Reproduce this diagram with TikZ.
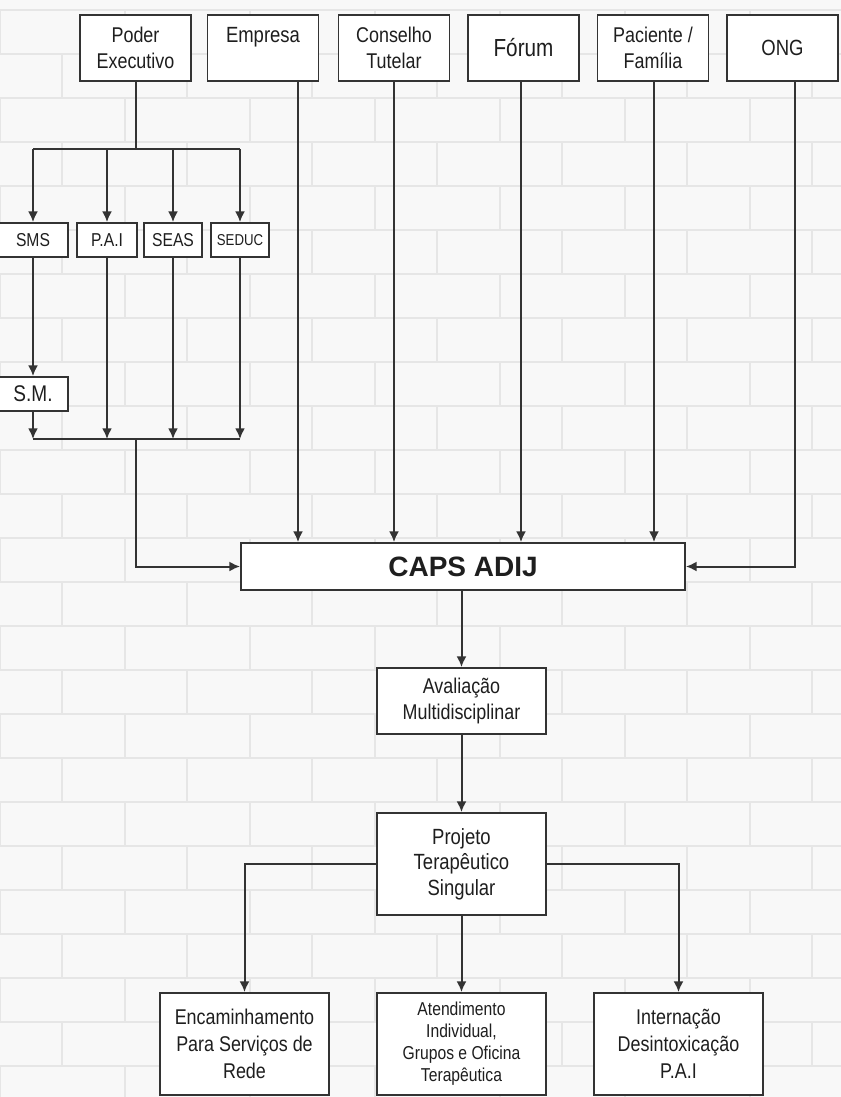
\documentclass[tikz,border=0pt]{standalone}
\usepackage{fontspec}
\setmainfont[FakeStretch=0.84]{Liberation Sans}
\newfontfamily\fonteLarga{Liberation Sans}
\usepackage{tikz}
\usetikzlibrary{arrows.meta,calc}
\definecolor{linhaEscura}{HTML}{333333}
\definecolor{textoEscuro}{HTML}{1E1E1E}
\definecolor{fundoClaro}{HTML}{F8F8F8}
\definecolor{tijolo}{HTML}{E6E6E6}

\tikzset{
  caixa/.style={draw=linhaEscura,line width=1.4pt,fill=white,text=textoEscuro,
    align=center,inner sep=1pt,font=\fontsize{16}{20}\selectfont},
  topo/.style={caixa,minimum width=83.25pt,minimum height=49.5pt},
  pequena/.style={caixa,minimum height=25.5pt,font=\fontsize{14}{16}\selectfont},
  meio/.style={caixa,minimum width=126.75pt},
  seta/.style={draw=linhaEscura,line width=1.5pt,-{Latex[length=8pt,width=7.5pt]}},
  linha/.style={draw=linhaEscura,line width=1.5pt}
}

\begin{document}
\begin{tikzpicture}[x=0.75pt,y=-0.75pt]
\clip (0,0) rectangle (841,1097);
\fill[fundoClaro] (0,0) rectangle (841,1097);
% tijolos do fundo
\foreach \r in {0,...,25}{
  \draw[tijolo,line width=1.6pt] (0,{\r*44+10}) -- (841,{\r*44+10});
  \pgfmathsetmacro{\desl}{mod(\r,2)*62}
  \foreach \c in {0,...,7}{
    \draw[tijolo,line width=1.6pt] ({\c*125+\desl},{\r*44+10}) -- ({\c*125+\desl},{\r*44+54});
  }
}

% linha de cima
\node[topo] (poder) at (135.5,48) {Poder\\Executivo};
\node[topo] (empresa) at (263,48) {\fontsize{16.5}{20}\selectfont Empresa\\\mbox{}};
\node[topo] (conselho) at (394,48) {Conselho\\Tutelar};
\node[topo,font=\fontsize{18.5}{20}\selectfont] (forum) at (523.5,48) {Fórum};
\node[topo] (paciente) at (653,48) {Paciente /\\Família};
\node[topo,font=\fontsize{16.5}{20}\selectfont] (ong) at (782.5,48) {ONG};

% secretarias
\node[pequena,minimum width=52.5pt] (sms) at (33,240) {SMS};
\node[pequena,minimum width=45pt] (pai) at (107,240) {P.A.I};
\node[pequena,minimum width=43.5pt] (seas) at (173,240) {SEAS};
\node[pequena,minimum width=43.5pt,font=\fontsize{11.8}{14}\selectfont] (seduc) at (240,240) {SEDUC};
\node[pequena,minimum width=52.5pt,font=\fontsize{17}{18}\selectfont] (sm) at (33,394) {S.M.};

% centro
\node[caixa,minimum width=333pt,minimum height=35.25pt,font=\fonteLarga\bfseries\fontsize{21}{24}\selectfont] (caps) at (463,566.5) {CAPS ADIJ};
\node[meio,minimum height=49.5pt] (avaliacao) at (461.5,701) {Avaliação\\Multidisciplinar};
\node[meio,minimum height=76.5pt,font=\fontsize{16.5}{19}\selectfont] (projeto) at (461.5,864) {Projeto\\Terapêutico\\Singular};

% linha de baixo
\node[meio,minimum height=76.5pt] (encaminhamento) at (244.5,1044) {Encaminhamento\\Para Serviços de\\Rede};
\node[meio,minimum height=76.5pt,font=\fontsize{14}{16.5}\selectfont] (atendimento) at (461.5,1044) {Atendimento\\Individual,\\Grupos e Oficina\\Terapêutica};
\node[meio,minimum height=76.5pt] (internacao) at (678.5,1044) {Internação\\Desintoxicação\\P.A.I};

% ramos do poder executivo
\coordinate (ramo) at (135.5,149);
\draw[linha] (poder.south) -- (ramo);
\draw[linha] (sms.north |- ramo) -- (seduc.north |- ramo);
\draw[seta] (sms.north |- ramo) -- (sms.north);
\draw[seta] (pai.north |- ramo) -- (pai.north);
\draw[seta] (seas.north |- ramo) -- (seas.north);
\draw[seta] (seduc.north |- ramo) -- (seduc.north);
\draw[seta] (sms.south) -- (sm.north);

% juncao
\coordinate (juncao) at (135.5,439);
\draw[seta] (sm.south) -- (sm.south |- juncao);
\draw[seta] (pai.south) -- (pai.south |- juncao);
\draw[seta] (seas.south) -- (seas.south |- juncao);
\draw[seta] (seduc.south) -- (seduc.south |- juncao);
\draw[linha] (sm.south |- juncao) -- (seduc.south |- juncao);
\draw[seta] (juncao) |- (caps.west);

% entradas do CAPS
\coordinate (empresaSai) at (298,81);
\coordinate (forumSai) at (521,81);
\coordinate (pacienteSai) at (654,81);
\coordinate (ongSai) at (795,81);
\draw[seta] (empresaSai) -- (empresaSai |- caps.north);
\draw[seta] (conselho.south) -- (conselho.south |- caps.north);
\draw[seta] (forumSai) -- (forumSai |- caps.north);
\draw[seta] (pacienteSai) -- (pacienteSai |- caps.north);
\draw[seta] (ongSai) |- (caps.east);

% fluxo
\draw[seta] (caps.south -| avaliacao.north) -- (avaliacao.north);
\draw[seta] (avaliacao.south) -- (projeto.north);
\draw[seta] (projeto.west) -| (encaminhamento.north);
\draw[seta] (projeto.south) -- (atendimento.north);
\draw[seta] (projeto.east) -| (internacao.north);
\end{tikzpicture}
\end{document}
